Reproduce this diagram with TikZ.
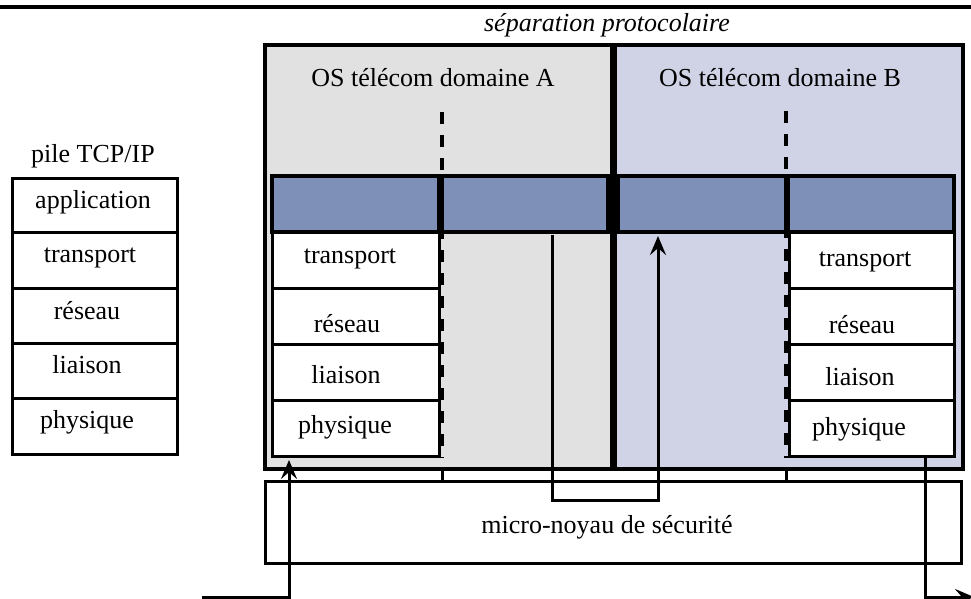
\documentclass[tikz,border=0pt]{standalone}
\usepackage{fontspec}
\setmainfont{Liberation Serif}
\usetikzlibrary{arrows.meta}
\definecolor{grayA}{HTML}{E1E1E1}
\definecolor{lavB}{HTML}{D0D3E6}
\definecolor{barblue}{HTML}{7F90B8}
\begin{document}
\begin{tikzpicture}[x=1pt,y=-1pt,
  rect/.style={draw=black, line width=3pt, anchor=north west, inner sep=0pt, outer sep=0pt},
  layer/.style={rect, fill=white},
  bar/.style={rect, fill=barblue, line width=3.4pt},
  dombox/.style={rect, line width=3.4pt},
  lbl/.style={font=\fontsize{26}{30}\selectfont, anchor=base, inner sep=0pt},
  sepline/.style={line width=3.2pt, dash pattern=on 12pt off 11pt},
  stub/.style={line width=3pt},
  arr/.style={line width=3pt, -{Stealth[length=19pt,width=16pt,inset=7pt]}}]
\useasboundingbox (0,0) rectangle (971,599);
% top rule
\coordinate (ruleL) at (0,7);
\coordinate (ruleR) at (971,7);
\draw[line width=3.4pt] (ruleL) -- (ruleR);
\node[lbl, font=\fontsize{26}{30}\selectfont\itshape] (sep) at (607,32) {séparation protocolaire};

% domains
\node[dombox, fill=grayA, minimum width=347pt, minimum height=424pt] (domA) at (265,45) {};
\node[dombox, fill=lavB, minimum width=348pt, minimum height=424pt] (domB) at (615,45) {};
\node[lbl] (titA) at (433,87) {OS télécom domaine A};
\node[lbl] (titB) at (780,87) {OS télécom domaine B};

% dashed separations
\coordinate (dA1) at (442,112); \coordinate (dA2) at (442,458);
\coordinate (dB1) at (786,111); \coordinate (dB2) at (786,458);
\draw[sepline] (dA1) -- (dA2);
\draw[sepline] (dB1) -- (dB2);

% blue bars
\node[bar, minimum width=167pt, minimum height=56pt] (barAL) at (272,176) {};
\node[bar, minimum width=166pt, minimum height=56pt] (barAR) at (442,176) {};
\node[bar, minimum width=168pt, minimum height=56pt] (barBL) at (618,176) {};
\node[bar, minimum width=166pt, minimum height=56pt] (barBR) at (788,176) {};

% layers A
\node[layer, minimum width=167pt, minimum height=56pt] (tA) at (272,232) {};
\node[layer, minimum width=167pt, minimum height=56pt] (rA) at (272,288) {};
\node[layer, minimum width=167pt, minimum height=56pt] (lA) at (272,344) {};
\node[layer, minimum width=167pt, minimum height=56pt] (pA) at (272,400) {};
\node[lbl] (tAt) at (350,263) {transport};
\node[lbl] (rAt) at (347,332) {réseau};
\node[lbl] (lAt) at (346,383) {liaison};
\node[lbl] (pAt) at (345,433) {physique};

% layers B
\node[layer, minimum width=165pt, minimum height=56pt] (tB) at (789,232) {};
\node[layer, minimum width=165pt, minimum height=56pt] (rB) at (789,288) {};
\node[layer, minimum width=165pt, minimum height=56pt] (lB) at (789,344) {};
\node[layer, minimum width=165pt, minimum height=56pt] (pB) at (789,400) {};
\node[lbl] (tBt) at (865,266) {transport};
\node[lbl] (rBt) at (862,333) {réseau};
\node[lbl] (lBt) at (860,385) {liaison};
\node[lbl] (pBt) at (859,435) {physique};

% TCP/IP stack
\node[lbl] (pile) at (93,162) {pile TCP/IP};
\node[layer, minimum width=165pt, minimum height=54pt] (sApp) at (12,178) {};
\node[layer, minimum width=165pt, minimum height=56pt] (sTr) at (12,232) {};
\node[layer, minimum width=165pt, minimum height=55pt] (sRe) at (12,288) {};
\node[layer, minimum width=165pt, minimum height=55pt] (sLi) at (12,343) {};
\node[layer, minimum width=165pt, minimum height=56pt] (sPh) at (12,398) {};
\node[lbl] (sAppt) at (93,208) {application};
\node[lbl] (sTrt) at (90,262) {transport};
\node[lbl] (sRet) at (87,319) {réseau};
\node[lbl] (sLit) at (87,373) {liaison};
\node[lbl] (sPht) at (87,428) {physique};

% kernel
\node[rect, fill=white, minimum width=696pt, minimum height=82pt] (kern) at (265,481) {};
\node[lbl] (kernt) at (607,533) {micro-noyau de sécurité};

% stubs between domains and kernel
\coordinate (sA1) at (442,469); \coordinate (sA2) at (442,481);
\coordinate (sB1) at (786,469); \coordinate (sB2) at (786,481);
\draw[stub] (sA1) -- (sA2);
\draw[stub] (sB1) -- (sB2);

% arrows
\coordinate (a1s) at (552,235);
\coordinate (a1e) at (658,236);
\draw[arr] (a1s) -- (552,500) -- (658,500) -- (a1e);
\coordinate (a2s) at (202,597);
\coordinate (a2e) at (289,460);
\draw[arr] (a2s) -- (289,597) -- (a2e);
\coordinate (a3s) at (925,458);
\coordinate (a3e) at (974,597);
\draw[arr] (a3s) -- (925,597) -- (a3e);
\end{tikzpicture}
\end{document}
